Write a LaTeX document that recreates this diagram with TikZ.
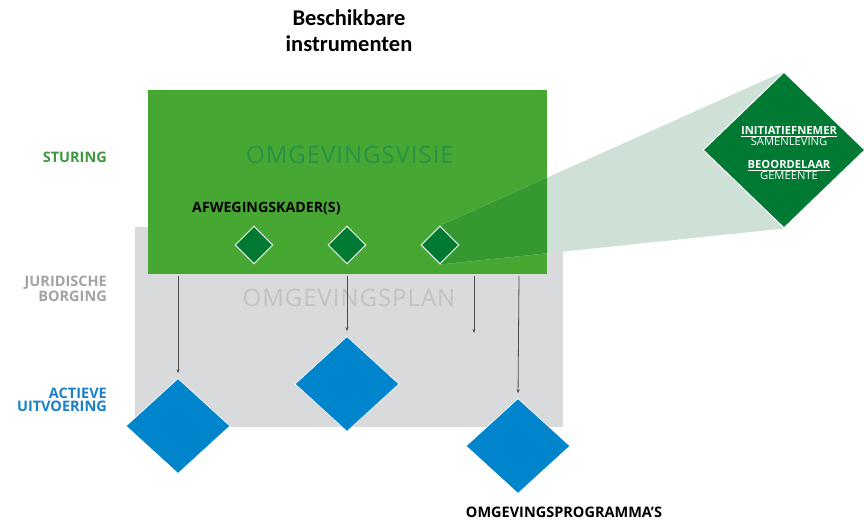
\documentclass[tikz,border=0pt]{standalone}
\usepackage{fontspec}
\setmainfont{Open Sans}
\newfontfamily\titlefont{Carlito}
\usetikzlibrary{shapes.geometric,arrows.meta}
\definecolor{vgreen}{HTML}{46A832}
\definecolor{dgreen}{HTML}{007A33}
\definecolor{lgreen}{HTML}{CFE0D6}
\definecolor{mgreen}{HTML}{349A30}
\definecolor{pgray}{HTML}{D9DADB}
\definecolor{vblue}{HTML}{0085CC}
\definecolor{lblue}{HTML}{1A80C8}
\definecolor{tgray}{HTML}{A3A3A5}
\definecolor{sgreen}{HTML}{3A9A3E}
\definecolor{vtext}{HTML}{27924A}
\definecolor{ptext}{HTML}{C2C2C4}
\tikzset{
  smalldia/.style={diamond,fill=dgreen,draw=white,line width=0.9pt,inner sep=0pt,minimum width=38pt,minimum height=38pt},
  bluedia/.style={diamond,fill=vblue,draw=white,line width=0.6pt,inner sep=0pt,minimum width=104pt,minimum height=95pt},
  bigdia/.style={diamond,fill=dgreen,draw=white,line width=1pt,inner sep=0pt,minimum width=162pt,minimum height=156pt},
  sidelabel/.style={anchor=east,align=right,font=\fontsize{14.5}{13}\selectfont\bfseries,inner sep=0pt},
  bigword/.style={font=\fontsize{24}{24}\selectfont\addfontfeature{LetterSpace=4},inner sep=0pt},
  conn/.style={draw=black!70,line width=0.8pt,-{Stealth[length=4pt,width=3pt]},shorten >=5pt},
}
\begin{document}
\begin{tikzpicture}[x=1pt,y=-1pt]
\useasboundingbox (0,0) rectangle (864,520);
% panels
\fill[pgray] (135,227) rectangle (563,427);
\fill[vgreen] (148,90) rectangle (547,274);
% nodes
\node[smalldia] (k1) at (254,245) {};
\node[smalldia] (k2) at (347,245) {};
\node[smalldia] (k3) at (440,245) {};
\node[bigdia] (big) at (784,150) {};
% projection
\fill[lgreen] (k3.north) -- (big.north) -- (big.south) -- (k3.south) -- cycle;
\begin{scope}
  \clip (148,90) rectangle (547,274);
  \fill[mgreen] (k3.north) -- (big.north) -- (big.south) -- (k3.south) -- cycle;
\end{scope}
\node[smalldia] at (k3) {};
\node[bigdia] at (big) {};
\node[align=center,text=white,font=\fontsize{11.2}{10.5}\selectfont,inner sep=0pt] (bigtext) at (789,153)
  {\textbf{\underline{INITIATIEFNEMER}}\\SAMENLEVING\\[13pt]\textbf{\underline{BEOORDELAAR}}\\GEMEENTE};
% blue diamonds
\node[bluedia] (b1) at (178,426) {};
\node[bluedia] (b2) at (347,384) {};
\node[bluedia] (b3) at (518,446) {};
% texts
\node[font=\titlefont\fontsize{22.5}{26}\selectfont\bfseries,align=center,inner sep=0pt] (title) at (349,31) {Beschikbare\\instrumenten};
\node[bigword,text=vtext] (visie) at (350,155) {OMGEVINGSVISIE};
\node[bigword,text=ptext] (plan) at (349,298) {OMGEVINGSPLAN};
\node[font=\fontsize{14.2}{14}\selectfont\bfseries,anchor=west,inner sep=0pt] (kader) at (192,208) {AFWEGINGSKADER(S)};
\node[font=\fontsize{14.5}{14}\selectfont\bfseries,inner sep=0pt] (prog) at (564,512) {OMGEVINGSPROGRAMMA'S};
\node[sidelabel,text=sgreen] (sturing) at (107,157) {STURING};
\node[sidelabel,text=tgray] (jur) at (107,289) {JURIDISCHE\\BORGING};
\node[sidelabel,text=lblue] (act) at (107,400) {ACTIEVE\\UITVOERING};
% connectors
\coordinate (s1) at (178,276);
\coordinate (s2) at (347,276);
\coordinate (s3) at (474,276);
\coordinate (s4) at (519,276);
\coordinate (e3) at (474,333);
\draw[conn] (s1) -- (b1.north);
\draw[conn] (s2) -- (b2.north);
\draw[conn,shorten >=0pt] (s3) -- (e3);
\draw[conn] (s4) -- (b3.north);
\end{tikzpicture}
\end{document}
